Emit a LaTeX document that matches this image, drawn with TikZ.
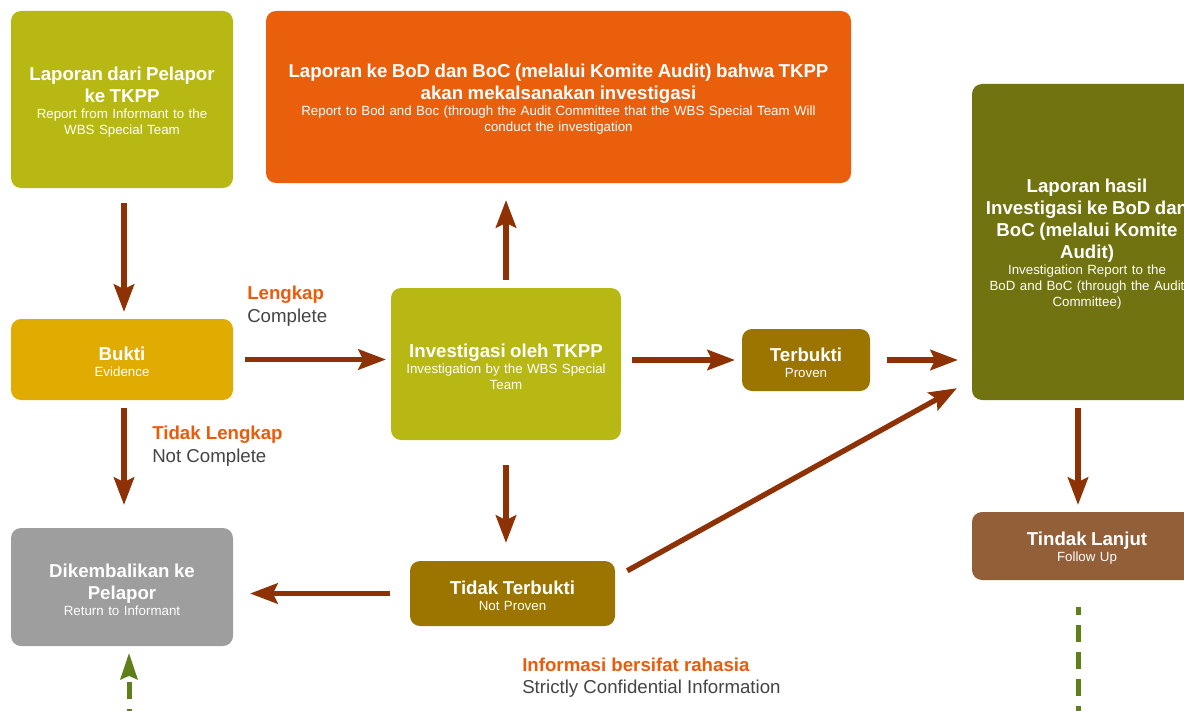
\documentclass[tikz,border=0pt]{standalone}
\usepackage{fontspec}
\setmainfont{Liberation Sans}
\usetikzlibrary{arrows.meta,calc}

% palette
\definecolor{oliveLight}{HTML}{B8B815}
\definecolor{orangeBox}{HTML}{E95F0C}
\definecolor{oliveDark}{HTML}{707310}
\definecolor{goldBox}{HTML}{E1AC02}
\definecolor{ochreBox}{HTML}{9B7500}
\definecolor{greyBox}{HTML}{9E9E9E}
\definecolor{brownBox}{HTML}{935F38}
\definecolor{flowRed}{HTML}{8E3205}
\definecolor{flowGreen}{HTML}{5F7F1B}
\definecolor{labelOrange}{HTML}{EA5B0C}
\definecolor{labelGrey}{HTML}{444444}

% box text: bold heading followed by a smaller English line
% (the invisible rule gives the first heading line a little extra headroom)
\newcommand\boxhead[1]{{\fontsize{14}{16.5}\selectfont\bfseries\rule{0pt}{14pt}#1\par}}
\newcommand\boxsub[1]{{\fontsize{10}{12}\selectfont #1\par}}

\tikzset{
  stagebox/.style={rectangle, rounded corners=7.5pt, inner sep=0pt,
    text=white, align=center},
  flow/.style={draw=flowRed, line width=4pt,
    -{Stealth[length=21pt, width=16pt, inset=4pt, line width=0pt]}},
  dashflow/.style={draw=flowGreen, line width=3.75pt,
    dash pattern=on 12.75pt off 7.5pt},
  dashtip/.style={-{Stealth[length=20pt, width=13.5pt, inset=3pt, line width=0pt]}},
  note/.style={anchor=west, inner sep=0pt, align=left,
    font=\fontsize{14}{17}\selectfont},
}

\begin{document}
\begin{tikzpicture}[x=0.75pt, y=-0.75pt]
\useasboundingbox (0,0) rectangle (1184,710);
\clip (0,0) rectangle (1184,710);

% ---- stages ----
\node[stagebox, fill=oliveLight, minimum width=166.5pt, minimum height=132.75pt,
      text width=160pt] (report) at (122,99.5)
  {\boxhead{Laporan dari Pelapor\\ke TKPP}\boxsub{Report from Informant to the\\WBS Special Team}};

\node[stagebox, fill=orangeBox, minimum width=438.75pt, minimum height=129pt,
      text width=430pt] (notify) at (558.5,97)
  {\boxhead{Laporan ke BoD dan BoC (melalui Komite Audit) bahwa TKPP\\akan mekalsanakan investigasi}\boxsub{Report to Bod and Boc (through the Audit Committee that the WBS Special Team Will\\conduct the investigation}};

\node[stagebox, fill=oliveDark, minimum width=172.5pt, minimum height=237pt,
      text width=170pt] (result) at (1087,242)
  {\boxhead{Laporan hasil\\Investigasi ke BoD dan\\BoC (melalui Komite\\Audit)}\boxsub{Investigation Report to the\\BoD and BoC (through the Audit\\Committee)}};

\node[stagebox, fill=goldBox, minimum width=166.5pt, minimum height=60.75pt,
      text width=160pt] (evidence) at (122,359.5)
  {\boxhead{Bukti}\boxsub{Evidence}};

\node[stagebox, fill=oliveLight, minimum width=172.5pt, minimum height=114pt,
      text width=166pt] (invest) at (506,364)
  {\boxhead{Investigasi oleh TKPP}\boxsub{Investigation by the WBS Special\\Team}};

\node[stagebox, fill=ochreBox, minimum width=96pt, minimum height=46.5pt,
      text width=92pt] (proven) at (806,360)
  {\boxhead{Terbukti}\boxsub{Proven}};

\node[stagebox, fill=greyBox, minimum width=166.5pt, minimum height=88.5pt,
      text width=160pt] (returned) at (122,587)
  {\boxhead{Dikembalikan ke\\Pelapor}\boxsub{Return to Informant}};

\node[stagebox, fill=ochreBox, minimum width=153.75pt, minimum height=48.75pt,
      text width=148pt] (notproven) at (512.5,593.5)
  {\boxhead{Tidak Terbukti}\boxsub{Not Proven}};

\node[stagebox, fill=brownBox, minimum width=172.5pt, minimum height=51pt,
      text width=170pt] (follow) at (1087,546)
  {\boxhead{Tindak Lanjut}\boxsub{Follow Up}};

% ---- notes ----
\node[note] (complete) at (247,306)
  {{\color{labelOrange}\bfseries Lengkap}\\{\color{labelGrey}Complete}};
\node[note] (incomplete) at (152,446.5)
  {{\color{labelOrange}\bfseries Tidak Lengkap}\\{\color{labelGrey}Not Complete}};
\node[note] (secret) at (522,677.5)
  {{\color{labelOrange}\bfseries Informasi bersifat rahasia}\\{\color{labelGrey}Strictly Confidential Information}};

% ---- flow ----
\draw[flow, shorten <=11.25pt, shorten >=5.25pt]
  ($(report.south)+(2,0)$) -- ($(evidence.north)+(2,0)$);
\draw[flow, shorten <=9pt, shorten >=3.75pt]
  (evidence.east) -- (evidence.east -| invest.west);
\draw[flow, shorten <=6pt, shorten >=12.75pt]
  (invest.north) -- (invest.north |- notify.south);
\draw[flow, shorten <=8.25pt, shorten >=5.25pt]
  (proven.west -| invest.east) -- (proven.west);
\draw[flow, shorten <=12.75pt, shorten >=10.5pt]
  (proven.east) -- (proven.east -| result.west);
\draw[flow, shorten <=6pt, shorten >=17.25pt]
  ($(evidence.south)+(2,0)$) -- ($(returned.north)+(2,0)$);
\draw[flow, shorten <=18.75pt, shorten >=13.5pt]
  (invest.south) -- (invest.south |- notproven.north);
\draw[flow, shorten <=15pt, shorten >=12.75pt]
  (notproven.west) -- (notproven.west -| returned.east);
\draw[flow]
  ($(notproven.north east)+(12,10)$) -- ($(result.south west)+(-15,-12)$);
\draw[flow, shorten <=6pt, shorten >=5.25pt]
  ($(result.south)+(-9,0)$) -- ($(follow.north)+(-9,0)$);

% ---- dashed links leaving the page ----
\coordinate (fromBelow) at (129,726);
\coordinate (toBelow) at (1078,730);
\draw[dashflow, dashtip, shorten >=5.25pt] (fromBelow) -- (fromBelow |- returned.south);
\draw[dashflow, dash phase=6.75pt] ($(follow.south)+(-9,27)$) -- (toBelow);
\end{tikzpicture}
\end{document}
